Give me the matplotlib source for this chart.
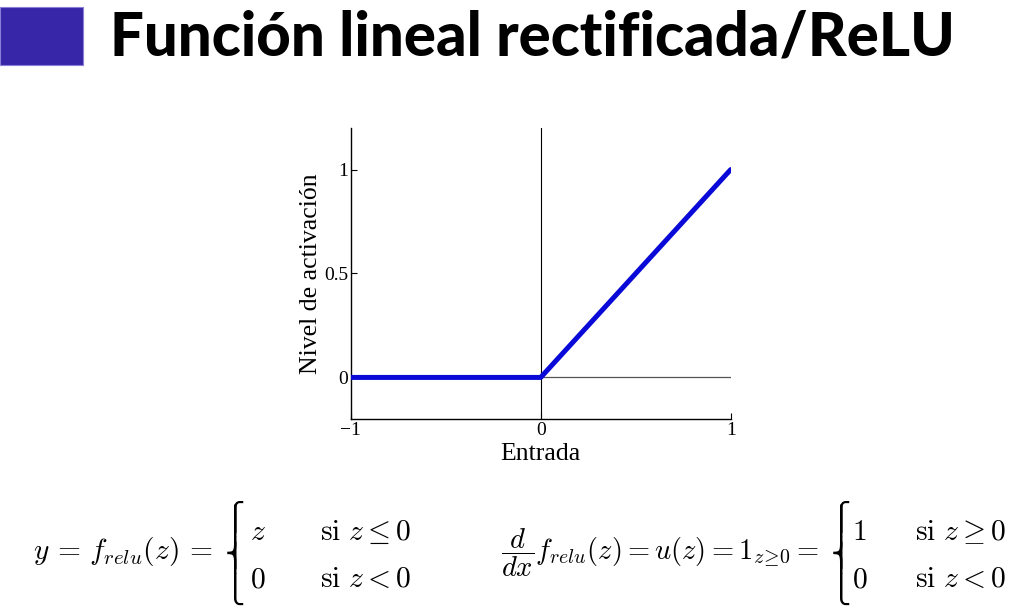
import numpy as np
import matplotlib
matplotlib.use("Agg")
import matplotlib.pyplot as plt
from matplotlib.patches import Rectangle
from matplotlib.textpath import TextPath
from matplotlib.font_manager import FontProperties

# ---- data ----
x_vals = [-1.0, 0.0, 1.0]
relu_vals = [0.0, 0.0, 1.0]
x_ticks = [-1, 0, 1]
x_tick_labels = ["\u22121", "0", "1"]
y_ticks = [0, 0.5, 1]
y_tick_labels = ["0", "0.5", "1"]
x_label = "Entrada"
y_label = "Nivel de activación"
title = "Función lineal rectificada/ReLU"

plt.rcParams['mathtext.fontset'] = 'cm'

W, H = 1012, 614
fig = plt.figure(figsize=(W / 100, H / 100), dpi=100)
fig.patch.set_facecolor('white')

def fx(px):
    return px / W

def fy(py):
    return 1 - py / H

# header square and title
fig.patches.append(Rectangle((0, fy(65)), fx(83), (65 - 7) / H,
                             transform=fig.transFigure, facecolor='#3726a8',
                             edgecolor='#8a7fd6', linewidth=0.8))
fig.text(fx(110), fy(37), title, fontsize=43.2, fontweight='black',
         family=['Lato', 'DejaVu Sans'], va='center', ha='left', color='black')

# plot axes
ax = fig.add_axes([fx(350.7), fy(419), fx(730.7) - fx(350.7), (419 - 128) / H])
ax.set_xlim(-1, 1)
ax.set_ylim(-0.2, 1.2)
ax.axvline(0, color='black', lw=0.8, zorder=1)
ax.axhline(0, color='#555555', lw=0.9, zorder=1)
ax.plot(x_vals, relu_vals, color='#0a0ad8', lw=3.6, solid_capstyle='round', zorder=3)

for s in ['top', 'right']:
    ax.spines[s].set_visible(False)
for s in ['left', 'bottom']:
    ax.spines[s].set_linewidth(1.0)
    ax.spines[s].set_color('black')

serif = ['Liberation Serif', 'DejaVu Serif']
ax.set_xticks(x_ticks)
ax.set_xticklabels(x_tick_labels, family=serif, fontsize=14)
ax.set_yticks(y_ticks)
ax.set_yticklabels(y_tick_labels, family=serif, fontsize=14)
ax.tick_params(direction='in', length=4, width=0.8, pad=2)
ax.set_xlabel(x_label, family=serif, fontsize=18.5, labelpad=3)
ax.set_ylabel(y_label, family=serif, fontsize=18.5, labelpad=1)

# ---- tall brace built from the Unicode brace pieces ----
brace_families = ['STIXGeneral', 'DejaVu Serif', 'DejaVu Sans']
brace_prop = FontProperties(family=brace_families)
TOP, MID, BOT, EXT = '\u23a7', '\u23a8', '\u23a9', '\u23aa'
PT2PX = 100 / 72

def ink(ch, size):
    e = TextPath((0, 0), ch, size=size, prop=brace_prop).get_extents()
    return e.x0 * PT2PX, e.x1 * PT2PX, e.y0 * PT2PX, e.y1 * PT2PX

def put(ch, x_origin, baseline_px, size):
    fig.text(fx(x_origin), fy(baseline_px), ch, fontsize=size,
             family=brace_families, ha='left', va='baseline')

def draw_brace(x_left, y_top, y_bot, width):
    ref = 100.0
    pieces = [ink(c, ref) for c in (TOP, MID, BOT)]
    w_ref = max(p[1] for p in pieces) - min(p[0] for p in pieces)
    h_ref = sum(p[3] - p[2] for p in pieces)
    size = ref * width / w_ref
    if h_ref * size / ref > (y_bot - y_top):
        size = ref * (y_bot - y_top) / h_ref
    t, m, b, e = (ink(c, size) for c in (TOP, MID, BOT, EXT))
    xmin = min(t[0], m[0], b[0])
    xo = x_left - xmin
    yc = 0.5 * (y_top + y_bot)
    he = e[3] - e[2]
    gaps = [(y_top + (t[3] - t[2]), yc - 0.5 * (m[3] - m[2])),
            (yc + 0.5 * (m[3] - m[2]), y_bot - (b[3] - b[2]))]
    for g0, g1 in gaps:
        pos = g0 - 1.0
        while pos < g1 + 1.0 and he > 1:
            top_here = min(pos, g1 + 1.0 - he)
            put(EXT, xo, top_here + e[3], size)
            pos += he - 1.5
    put(TOP, xo, y_top + t[3], size)
    put(MID, xo, yc + 0.5 * (m[2] + m[3]), size)
    put(BOT, xo, y_bot + b[2], size)

# equations
fs = 21.3
fs_r = 20.5
base_main = 559
row1, row2 = 540, 587

fig.text(fx(212), fy(base_main), r"$y\,=\,f_{relu}(z)\,=$", fontsize=fs,
         va='baseline', ha='right')
draw_brace(227, 500, 605, 16)
fig.text(fx(250), fy(row1), r"$z$", fontsize=fs, va='baseline', ha='left')
fig.text(fx(320), fy(row1), r"$\mathrm{si}\ z\leq 0$", fontsize=fs, va='baseline', ha='left')
fig.text(fx(250), fy(row2), r"$0$", fontsize=fs, va='baseline', ha='left')
fig.text(fx(320), fy(row2), r"$\mathrm{si}\ z<0$", fontsize=fs, va='baseline', ha='left')

fig.text(fx(819), fy(base_main),
         r"$\dfrac{d}{dx}f_{relu}(z)=u(z)=\mathbf{1}_{z\!\geq\!0}=$",
         fontsize=fs_r, va='baseline', ha='right')
draw_brace(833, 500, 605, 16)
fig.text(fx(852), fy(row1), r"$1$", fontsize=fs, va='baseline', ha='left')
fig.text(fx(915), fy(row1), r"$\mathrm{si}\ z\geq 0$", fontsize=fs, va='baseline', ha='left')
fig.text(fx(852), fy(row2), r"$0$", fontsize=fs, va='baseline', ha='left')
fig.text(fx(915), fy(row2), r"$\mathrm{si}\ z<0$", fontsize=fs, va='baseline', ha='left')

fig.savefig("out.png", dpi=100, facecolor='white')
